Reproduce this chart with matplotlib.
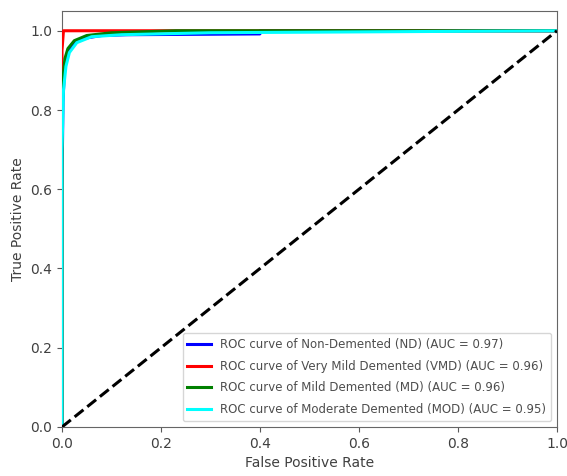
"""ROC curves for the four dementia classes."""

import matplotlib
matplotlib.use("Agg")
import matplotlib.pyplot as plt

# ROC points (fpr, tpr)
nd_fpr = [0.0, 0.0, 0.002, 0.005, 0.01, 0.02, 0.04, 0.08, 0.13, 0.40, 0.40, 1.0]
nd_tpr = [0.0, 0.60, 0.82, 0.90, 0.94, 0.965, 0.98, 0.988, 0.99, 0.992, 1.0, 1.0]

vmd_fpr = [0.0, 0.0, 0.0, 0.003, 1.0]
vmd_tpr = [0.0, 0.80, 0.95, 1.0, 1.0]

md_fpr = [0.0, 0.0, 0.002, 0.006, 0.012, 0.025, 0.05, 0.10, 0.23, 1.0]
md_tpr = [0.0, 0.78, 0.88, 0.93, 0.955, 0.975, 0.988, 0.995, 1.0, 1.0]

mod_fpr = [0.0, 0.0, 0.003, 0.008, 0.015, 0.03, 0.06, 0.12, 0.30, 1.0]
mod_tpr = [0.0, 0.70, 0.85, 0.91, 0.945, 0.97, 0.985, 0.99, 0.995, 1.0]

curves = [
    ("Non-Demented (ND)", 0.97, "blue", nd_fpr, nd_tpr),
    ("Very Mild Demented (VMD)", 0.96, "red", vmd_fpr, vmd_tpr),
    ("Mild Demented (MD)", 0.96, "green", md_fpr, md_tpr),
    ("Moderate Demented (MOD)", 0.95, "cyan", mod_fpr, mod_tpr),
]

fig = plt.figure(figsize=(5.67, 4.76), dpi=100)
axis = fig.add_axes([0.1093, 0.103, 0.873, 0.874])

for name, auc, color, fpr, tpr in curves:
    axis.plot(fpr, tpr, color=color, lw=2.2, zorder=3,
              label=f"ROC curve of {name} (AUC = {auc:.2f})")

axis.plot([0, 1], [0, 1], "k--", lw=2.2, zorder=3)
axis.set_xlim(0.0, 1.0)
axis.set_ylim(0.0, 1.05)
axis.set_xlabel("False Positive Rate", fontsize=10, color="0.25")
axis.set_ylabel("True Positive Rate", fontsize=10, color="0.25")
axis.tick_params(labelsize=10, labelcolor="0.25", color="0.35")
for spine in axis.spines.values():
    spine.set_edgecolor("0.4")
axis.legend(loc="lower right", fontsize=8.5, labelspacing=0.75, labelcolor="0.3")

fig.savefig("out.png", dpi=100)
